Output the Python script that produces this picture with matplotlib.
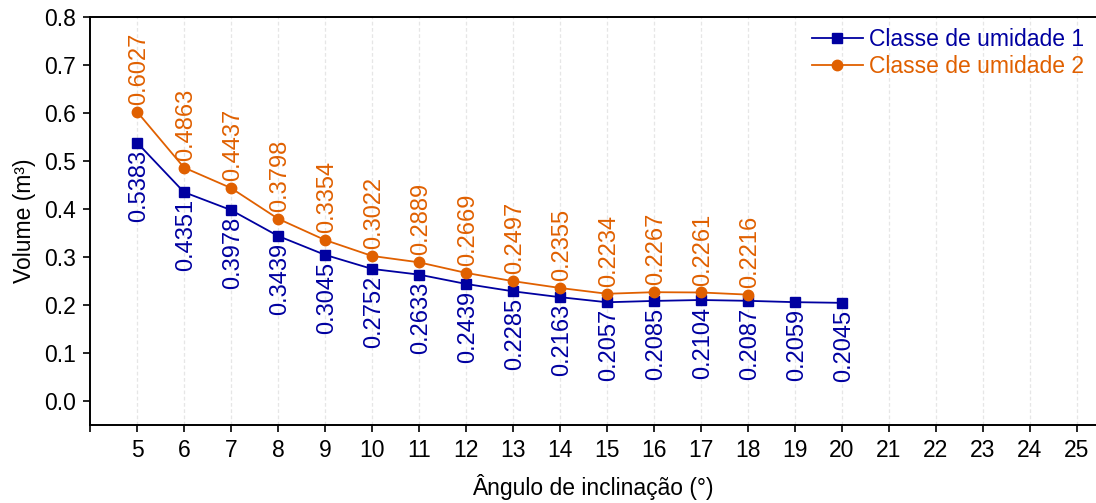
import matplotlib
matplotlib.use("Agg")
import matplotlib.pyplot as plt

plt.rcParams['font.family'] = ['Liberation Sans', 'DejaVu Sans']

angles_1 = [5, 6, 7, 8, 9, 10, 11, 12, 13, 14, 15, 16, 17, 18, 19, 20]
volume_1 = [0.5383, 0.4351, 0.3978, 0.3439, 0.3045, 0.2752, 0.2633, 0.2439,
            0.2285, 0.2163, 0.2057, 0.2085, 0.2104, 0.2087, 0.2059, 0.2045]
angles_2 = [5, 6, 7, 8, 9, 10, 11, 12, 13, 14, 15, 16, 17, 18]
volume_2 = [0.6027, 0.4863, 0.4437, 0.3798, 0.3354, 0.3022, 0.2889, 0.2669,
            0.2497, 0.2355, 0.2234, 0.2267, 0.2261, 0.2216]
x_ticks = list(range(5, 26))
y_ticks = [0.0, 0.1, 0.2, 0.3, 0.4, 0.5, 0.6, 0.7, 0.8]

BLUE = '#0000A0'
ORANGE = '#E06000'

fig = plt.figure(figsize=(10.96, 5.03), dpi=100)
ax = fig.add_axes([90 / 1096, 78 / 503, 1 - 90 / 1096, (425 - 17) / 503])

for x in x_ticks:
    ax.axvline(x, color='#e6e6e6', lw=0.9, ls=(0, (3, 2)), zorder=0)

ax.plot(angles_1, volume_1, color=BLUE, marker='s', ms=6.5, lw=1.3,
        label='Classe de umidade 1', zorder=3)
ax.plot(angles_2, volume_2, color=ORANGE, marker='o', ms=7.5, lw=1.3,
        label='Classe de umidade 2', zorder=3)

for x, v in zip(angles_1, volume_1):
    ax.annotate(f'{v:.4f}', (x, v), xytext=(1.5, -5), textcoords='offset points',
                rotation=90, ha='center', va='top', color=BLUE, fontsize=17)
for x, v in zip(angles_2, volume_2):
    ax.annotate(f'{v:.4f}', (x, v), xytext=(1.5, 5), textcoords='offset points',
                rotation=90, ha='center', va='bottom', color=ORANGE, fontsize=17)

ax.set_xlim(4, 4 + (1096 - 90) / 47)
ax.set_ylim(-0.05, 0.8)
ax.set_xticks([4] + x_ticks)
ax.set_xticklabels([''] + [str(t) for t in x_ticks], fontsize=16.5)
ax.set_yticks(y_ticks)
ax.set_yticklabels([f'{t:.1f}' for t in y_ticks], fontsize=16.5)
ax.tick_params(direction='out', length=5, width=1.2, pad=5)

for side in ['left', 'bottom', 'top']:
    ax.spines[side].set_linewidth(1.4)
ax.spines['right'].set_visible(False)

ax.set_xlabel('Ângulo de inclinação (°)', fontsize=16.5, labelpad=9)
ax.set_ylabel('Volume (m³)', fontsize=16.5, labelpad=6)

leg = ax.legend(loc='upper right', frameon=False, fontsize=16.5,
                handlelength=2.2, handletextpad=0.3, borderaxespad=0.2,
                borderpad=0.3, labelspacing=0.15)
for txt, line in zip(leg.get_texts(), leg.get_lines()):
    txt.set_color(line.get_color())

fig.savefig('out.png', dpi=100)
